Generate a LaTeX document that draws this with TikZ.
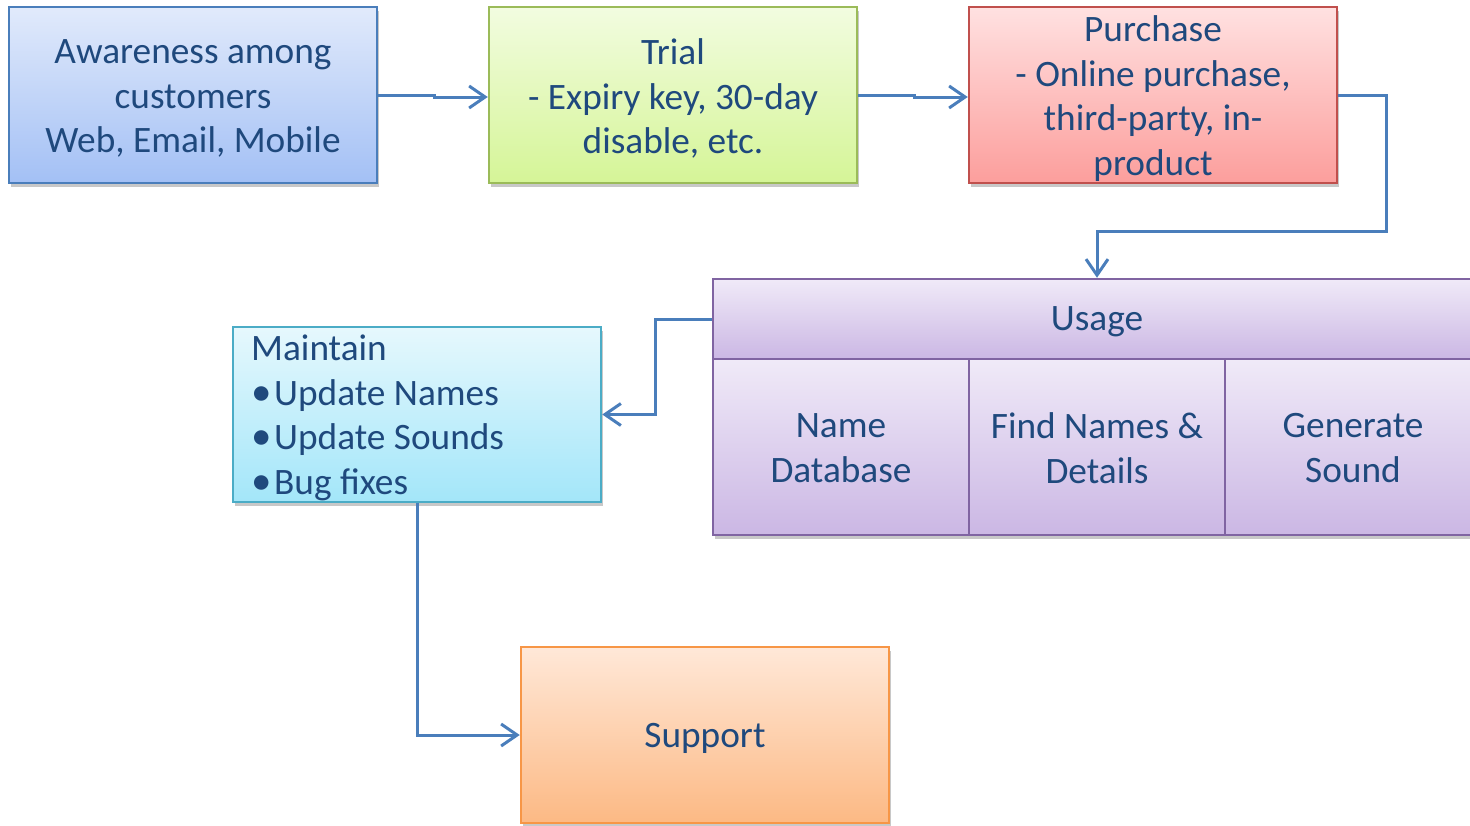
\documentclass[tikz,border=0pt]{standalone}
\usepackage{fontspec}
\setmainfont{Carlito}
\usetikzlibrary{arrows.meta,shadows,calc}
\definecolor{txtc}{HTML}{1F497D}
\definecolor{linec}{HTML}{4A7EBB}
\definecolor{awT}{HTML}{E1EAFB}\definecolor{awB}{HTML}{A3C0F5}\definecolor{awD}{HTML}{4A7EBB}
\definecolor{trT}{HTML}{F2FCE0}\definecolor{trB}{HTML}{D5F597}\definecolor{trD}{HTML}{9BBB59}
\definecolor{puT}{HTML}{FFE1E1}\definecolor{puB}{HTML}{FC9E9C}\definecolor{puD}{HTML}{C0504D}
\definecolor{usT}{HTML}{F0EAF8}\definecolor{usB}{HTML}{CBB7E4}\definecolor{usD}{HTML}{8064A2}
\definecolor{mtT}{HTML}{E6F8FD}\definecolor{mtB}{HTML}{A3E6F9}\definecolor{mtD}{HTML}{4BACC6}
\definecolor{spT}{HTML}{FFE8D8}\definecolor{spB}{HTML}{FCB984}\definecolor{spD}{HTML}{F79646}
\tikzset{
  boxbase/.style={rectangle, inner sep=0pt, line width=2.5pt,
    drop shadow={shadow xshift=2pt, shadow yshift=-4pt, opacity=0.3, fill=black!70}},
  bigbox/.style={boxbase, minimum width=368pt, minimum height=176pt},
  txt/.style={text=txtc, align=center, inner sep=0pt, font=\fontsize{37.3}{44.5}\selectfont},
  conn/.style={draw=linec, line width=3pt, -{Straight Barb[length=16pt,width=22pt]}},
}
\begin{document}
\begin{tikzpicture}[x=1pt,y=-1pt]
\clip (0,0) rectangle (1470,825);
\fill[white] (0,0) rectangle (1470,825);
% boxes
\node[bigbox, draw=awD, top color=awT, bottom color=awB] (aw) at (193,95) {};
\node[txt] (awt) at (193,98.5) {Awareness among\\customers\\Web, Email, Mobile};
\node[bigbox, draw=trD, top color=trT, bottom color=trB] (tr) at (673,95) {};
\node[txt] (trt) at (673,98.5) {Trial\\- Expiry key, 30-day\\disable, etc.};
\node[bigbox, draw=puD, top color=puT, bottom color=puB] (pu) at (1153,95) {};
\node[txt] (put) at (1153,98.5) {Purchase\\- Online purchase,\\third-party, in-\\product};
% usage
\node[boxbase, draw=usD, top color=usT, bottom color=usB, minimum width=768pt, minimum height=80pt] (us) at (1097,319) {};
\node[txt] (ust) at (1097,322) {Usage};
\node[boxbase, draw=usD, top color=usT, bottom color=usB, minimum width=256pt, minimum height=176pt] (c1) at (841,447) {};
\node[boxbase, draw=usD, top color=usT, bottom color=usB, minimum width=256pt, minimum height=176pt] (c2) at (1097,447) {};
\node[boxbase, draw=usD, top color=usT, bottom color=usB, minimum width=256pt, minimum height=176pt] (c3) at (1353,447) {};
\node[txt] (c1t) at (841,448) {Name\\Database};
\node[txt] (c2t) at (1097,448) {Find Names \&\\Details};
\node[txt] (c3t) at (1353,448) {Generate\\Sound};
% maintain
\node[bigbox, draw=mtD, top color=mtT, bottom color=mtB, minimum height=175pt] (mt) at (417,414.5) {};
\node[txt, align=left, anchor=west] (mtt) at (251,418) {Maintain\\\makebox[23pt][l]{\fontsize{41}{44.5}\selectfont\textbullet}Update Names\\\makebox[23pt][l]{\fontsize{41}{44.5}\selectfont\textbullet}Update Sounds\\\makebox[23pt][l]{\fontsize{41}{44.5}\selectfont\textbullet}Bug fixes};
% support
\node[bigbox, draw=spD, top color=spT, bottom color=spB] (sp) at (705,735) {};
\node[txt] (spt) at (705,738) {Support};
% connectors
\draw[conn] (aw.east) -- ++(56,0) -- ++(0,2) -- ($(tr.west)+(0,2)$);
\draw[conn] (tr.east) -- ++(56,0) -- ++(0,2) -- ($(pu.west)+(0,2)$);
\draw[conn] (pu.east) -- ++(48,0) -- ++(0,136) -| (us.north);
\draw[conn] (us.west) -- ++(-56,0) |- (mt.east);
\draw[conn] (mt.south) |- (sp.west);
\end{tikzpicture}
\end{document}
